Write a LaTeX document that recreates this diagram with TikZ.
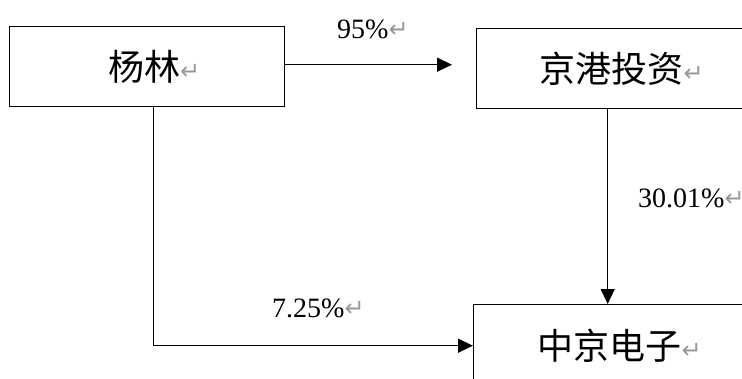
\documentclass[tikz,border=0pt]{standalone}
\usepackage{fontspec}
\setmainfont{Liberation Serif}
\newfontfamily\cjk{Noto Sans CJK SC}
\newfontfamily\symf{DejaVu Sans}
\usetikzlibrary{arrows.meta}
\newcommand{\pmark}{{\symf\fontsize{24bp}{24bp}\selectfont\color{gray!80}\raisebox{1bp}{↵}}}
\begin{document}
\begin{tikzpicture}[x=1bp,y=-1bp,
  box/.style={draw, line width=1.4bp, inner sep=0pt, anchor=north west,
    font=\cjk\fontsize{36bp}{36bp}\selectfont},
  lbl/.style={inner sep=0pt, anchor=west, font=\fontsize{28bp}{28bp}\selectfont},
  conn/.style={line width=1.4bp, -{Triangle[length=15bp,width=14bp]}}]
\useasboundingbox (0,0) rectangle (742,378);
\clip (0,0) rectangle (742,378);
\node[box, minimum width=275bp, minimum height=80bp] (a) at (9,26) {\hspace*{14bp}杨林\pmark};
\node[box, minimum width=290bp, minimum height=80bp] (b) at (476,28) {京港投资\pmark};
\node[box, minimum width=292bp, minimum height=82bp] (c) at (473,304) {中京电子\pmark};
\node[lbl] (l1) at (337,29) {95\%\pmark};
\node[lbl] (l2) at (638,198) {30.01\%\pmark};
\node[lbl] (l3) at (272,308) {7.25\%\pmark};
\draw[conn, shorten >=24bp] ([yshift=2bp]a.east) -- ([yshift=2bp]b.west |- a.east);
\draw[conn] ([xshift=-14bp]b.south) -- ([xshift=-14bp]b.south |- c.north);
\draw[conn] ([xshift=6.5bp]a.south) |- (c.west);
\end{tikzpicture}
\end{document}
